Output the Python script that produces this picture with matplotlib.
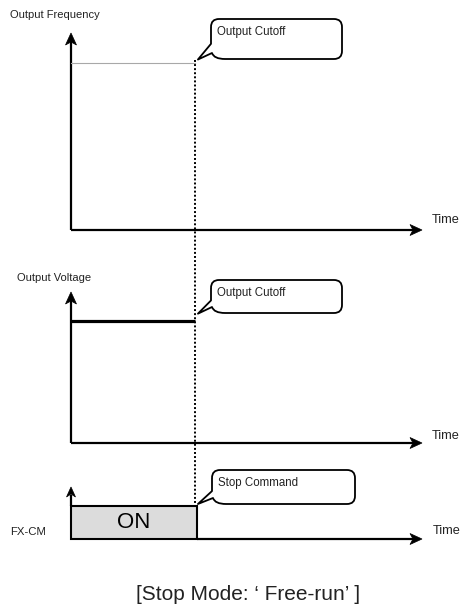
import matplotlib
matplotlib.use("Agg")
import matplotlib.pyplot as plt
from matplotlib.path import Path
from matplotlib.patches import PathPatch, Polygon, Rectangle

# ---- chart content ----
panel_labels = ["Output Frequency", "Output Voltage", "FX-CM"]
callout_texts = ["Output Cutoff", "Output Cutoff", "Stop Command"]
time_label = "Time"
on_label = "ON"
caption = "[Stop Mode: \u2018 Free-run\u2019 ]"

# normalised signal values (time axis 0..1, level 0..1 of panel height)
t_stop = 0.353          # moment the FX-CM command is released
freq_level = 0.85       # output frequency before cutoff
volt_level = 0.81       # output voltage before cutoff

# ---- layout (pixels) ----
W, H = 462, 613
fig = plt.figure(figsize=(W / 100, H / 100), dpi=100)
ax = fig.add_axes([0, 0, 1, 1])
ax.set_xlim(0, W)
ax.set_ylim(H, 0)
ax.axis("off")

FONT = ["Liberation Sans Narrow", "Liberation Sans", "DejaVu Sans"]
TXT = "#222222"
LAB_FS = 8.0
TIME_FS = 9.2
x_org, x_end = 71, 422
def tx(t):
    return x_org + t * (x_end - x_org)

def arrow_head(x, y, direction, L=12, w=5.5, notch=3):
    if direction == "up":
        pts = [(x, y), (x - w, y + L), (x, y + L - notch), (x + w, y + L)]
    else:  # right
        pts = [(x, y), (x - L, y - w), (x - L + notch, y), (x - L, y + w)]
    ax.add_patch(Polygon(pts, closed=True, fc="black", ec="black", lw=0.5))

def callout(x0, y0, x1, y1, tip, text, r=8):
    h = y1 - y0
    verts = [
        (x0, y0 + r),
        (x0, y0), (x0 + r, y0),
        (x1 - r, y0),
        (x1, y0), (x1, y0 + r),
        (x1, y1 - r),
        (x1, y1), (x1 - r, y1),
        (x0 + 14, y1),
        (x0 + 3, y1), (x0 + 1, y1 - 6),
        tip,
        (x0, y0 + 0.62 * h),
        (x0, y0 + r),
    ]
    codes = [Path.MOVETO,
             Path.CURVE3, Path.CURVE3,
             Path.LINETO,
             Path.CURVE3, Path.CURVE3,
             Path.LINETO,
             Path.CURVE3, Path.CURVE3,
             Path.LINETO,
             Path.CURVE3, Path.CURVE3,
             Path.LINETO,
             Path.LINETO,
             Path.LINETO]
    ax.add_patch(PathPatch(Path(verts, codes), fc="white", ec="black", lw=1.3,
                           joinstyle="round", zorder=5))
    ax.text(x0 + 6, y0 + 13, text, fontsize=8.3, family=FONT, color=TXT,
            va="center", ha="left", zorder=6)

AX_LW = 1.6
x_cut = tx(t_stop)

# ---- panel 1 : output frequency ----
p1_bottom, p1_top = 230, 33
ax.plot([x_org, x_org], [p1_bottom, p1_top + 8], color="black", lw=AX_LW, solid_capstyle="butt")
arrow_head(x_org, p1_top, "up")
ax.plot([x_org, x_end - 8], [p1_bottom, p1_bottom], color="black", lw=AX_LW, solid_capstyle="butt")
arrow_head(x_end, p1_bottom, "right")
y_f = p1_bottom - freq_level * (p1_bottom - p1_top)
ax.plot([x_org, x_cut], [y_f, y_f], color="#a8a8a8", lw=0.8)
ax.text(10, 15, panel_labels[0], fontsize=LAB_FS, family=FONT, color=TXT, va="center", ha="left")
ax.text(432, 220, time_label, fontsize=TIME_FS, family=FONT, color=TXT, va="center", ha="left")
callout(211, 19, 342, 59, (x_cut + 3, y_f - 3), callout_texts[0])

# ---- panel 2 : output voltage ----
p2_bottom, p2_top = 443, 292
ax.plot([x_org, x_org], [p2_bottom, p2_top + 8], color="black", lw=AX_LW, solid_capstyle="butt")
arrow_head(x_org, p2_top, "up")
ax.plot([x_org, x_end - 8], [p2_bottom, p2_bottom], color="black", lw=AX_LW, solid_capstyle="butt")
arrow_head(x_end, p2_bottom, "right")
y_v = p2_bottom - volt_level * (p2_bottom - p2_top)
ax.plot([x_org, x_cut], [y_v, y_v], color="black", lw=2.3, solid_capstyle="butt")
ax.text(17, 278, panel_labels[1], fontsize=LAB_FS, family=FONT, color=TXT, va="center", ha="left")
ax.text(432, 436, time_label, fontsize=TIME_FS, family=FONT, color=TXT, va="center", ha="left")
callout(211, 280, 342, 313, (x_cut + 3, y_v - 7), callout_texts[1])

# ---- panel 3 : FX-CM command ----
p3_bottom, p3_top = 539, 506
x_on_end = x_cut + 2
ax.add_patch(Rectangle((x_org, p3_top), x_on_end - x_org, p3_bottom - p3_top,
                       fc="#dcdcdc", ec="black", lw=1.5, zorder=3))
ax.plot([x_org, x_org], [p3_top, 487 + 8], color="black", lw=AX_LW, solid_capstyle="butt")
arrow_head(x_org, 487, "up", L=10, w=4.5)
ax.plot([x_on_end, x_end - 8], [p3_bottom, p3_bottom], color="black", lw=AX_LW, solid_capstyle="butt")
arrow_head(x_end, p3_bottom, "right")
ax.text((x_org + x_on_end) / 2, 523, on_label, fontsize=16.0, family=["Liberation Sans", "DejaVu Sans"],
        color="black", va="center", ha="center", zorder=4)
ax.text(10, 532, panel_labels[2], fontsize=8.2, family=FONT, color=TXT, va="center", ha="left")
ax.text(433, 531, time_label, fontsize=TIME_FS, family=FONT, color=TXT, va="center", ha="left")
callout(212, 470, 355, 504, (x_cut + 3, p3_top - 2), callout_texts[2])

# ---- dotted cutoff marker ----
ax.plot([x_cut, x_cut], [y_f - 3, p3_top - 1], color="black", lw=1.4,
        linestyle=(0, (1, 1.1)), zorder=2)

# ---- caption ----
ax.text(248, 594, caption, fontsize=15, family=FONT, color=TXT, va="center", ha="center")

fig.savefig("out.png", dpi=100)
